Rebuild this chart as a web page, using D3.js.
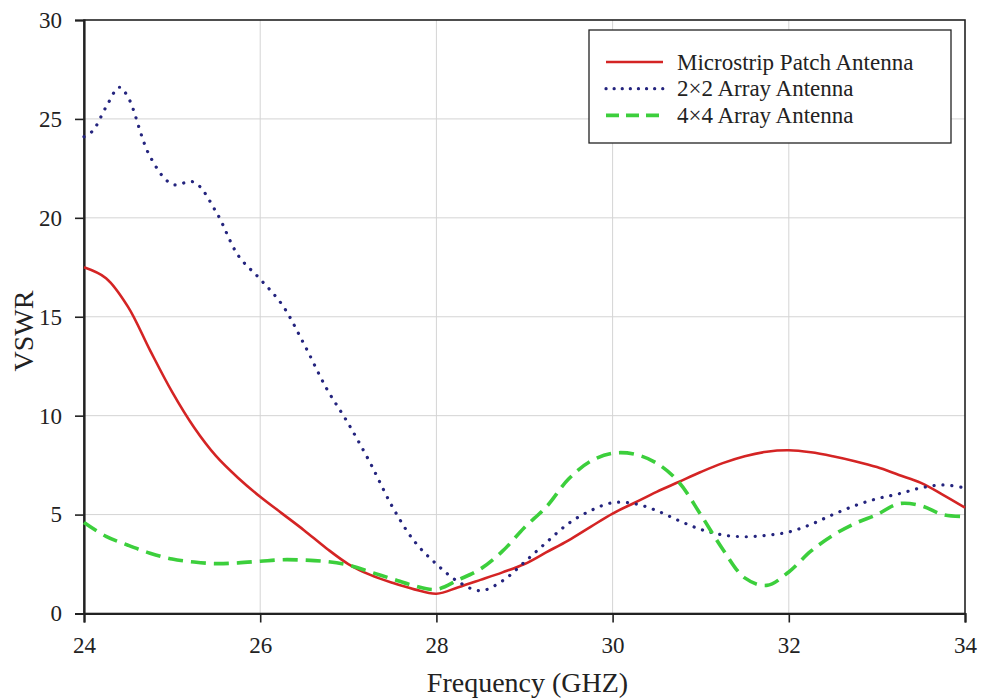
<!DOCTYPE html>
<html><head><meta charset="utf-8">
<script src="https://cdn.jsdelivr.net/npm/d3@7"></script>
<style>body{margin:0;background:#fff}svg{display:block}text{font-family:"Liberation Serif","Times New Roman",serif !important;fill:#222}</style>
</head><body>
<svg id="c" width="982" height="698"></svg>
<script>
const freq = [24,24.25,24.5,24.75,25,25.25,25.5,25.75,26,26.25,26.5,26.75,27,27.25,27.5,27.75,28,28.25,28.5,28.75,29,29.25,29.5,29.75,30,30.25,30.5,30.75,31,31.25,31.5,31.75,32,32.25,32.5,32.75,33,33.25,33.5,33.75,34];
const patch = [17.5,16.95,15.5,13.3,11.2,9.4,7.95,6.85,5.9,5.05,4.2,3.3,2.5,1.95,1.55,1.22,1.0,1.33,1.7,2.08,2.5,3.1,3.7,4.38,5.05,5.6,6.15,6.65,7.15,7.6,7.95,8.18,8.25,8.15,7.95,7.7,7.4,7.0,6.6,6.0,5.35];
const freq2 = [24,24.1,24.25,24.4,24.5,24.75,25,25.25,25.5,25.75,26,26.25,26.5,26.75,27,27.25,27.5,27.75,28,28.25,28.5,28.75,29,29.25,29.5,29.75,30,30.25,30.5,30.75,31,31.25,31.5,31.75,32,32.25,32.5,32.75,33,33.25,33.5,33.75,34];
const array2 = [24.1,24.4,25.6,26.6,26.1,23.1,21.7,21.8,20.3,18.1,16.9,15.6,13.6,11.4,9.6,7.6,5.4,3.65,2.5,1.6,1.15,1.65,2.6,3.6,4.55,5.2,5.6,5.55,5.2,4.7,4.25,3.97,3.88,3.95,4.12,4.5,5.0,5.45,5.8,6.05,6.35,6.5,6.35];
const array4 = [4.6,3.9,3.45,3.05,2.75,2.6,2.52,2.56,2.64,2.72,2.7,2.63,2.45,2.1,1.75,1.4,1.22,1.7,2.25,3.15,4.35,5.4,6.8,7.7,8.1,8.05,7.6,6.65,5.0,3.25,1.8,1.42,2.1,3.15,3.95,4.55,5.0,5.55,5.45,5.0,4.9];
const seriesNames = ["Microstrip Patch Antenna","2\u00d72 Array Antenna","4\u00d74 Array Antenna"];
const xTicks = [24,26,28,30,32,34];
const yTicks = [0,5,10,15,20,25,30];

const svg = d3.select("#c");
const L=84,R=965,T=20,B=613.5;
const x = d3.scaleLinear().domain([24,34]).range([L,R]);
const y = d3.scaleLinear().domain([0,30]).range([B,T]);

// grid
svg.append("g").selectAll("line").data(yTicks.slice(1,-1)).join("line")
  .attr("x1",L).attr("x2",R).attr("y1",d=>y(d)).attr("y2",d=>y(d))
  .attr("stroke","#d4d4d4").attr("stroke-width",1);
svg.append("g").selectAll("line").data(xTicks.slice(1,-1)).join("line")
  .attr("y1",T).attr("y2",B).attr("x1",d=>x(d)).attr("x2",d=>x(d))
  .attr("stroke","#d4d4d4").attr("stroke-width",1);

// frame
svg.append("rect").attr("x",L).attr("y",T).attr("width",R-L).attr("height",B-T)
  .attr("fill","none").attr("stroke","#222").attr("stroke-width",1.6);

// axes
const xa = svg.append("g").attr("transform",`translate(0,${B})`)
  .call(d3.axisBottom(x).tickValues(xTicks).tickSize(9).tickPadding(14).tickFormat(d3.format("d")));
const ya = svg.append("g").attr("transform",`translate(${L},0)`)
  .call(d3.axisLeft(y).tickValues(yTicks).tickSize(9).tickPadding(13).tickFormat(d3.format("d")));
[xa,ya].forEach(g=>{
  g.attr("font-family",null).attr("font-size",null);
  g.select(".domain").attr("stroke","#222").attr("stroke-width",2.2);
  g.selectAll(".tick line").attr("stroke","#222").attr("stroke-width",1.6);
  g.selectAll(".tick text").style("font-family","'Liberation Serif', serif").style("font-size","23px").attr("fill","#222");
});

// titles
svg.append("text").attr("x",(L+R)/2+3).attr("y",692).attr("text-anchor","middle")
  .attr("font-size",28).text("Frequency (GHZ)");
svg.append("text").attr("transform",`translate(33,331) rotate(-90)`).attr("text-anchor","middle")
  .attr("font-size",28).text("VSWR");

const styles = [
  {color:"#d42424",width:2.6,dash:null,cap:"butt"},
  {color:"#24247e",width:3.2,dash:"0.1 8.8",cap:"round"},
  {color:"#3ccf3c",width:3.6,dash:"15 8",cap:"butt"}
];
const allSeries=[[freq,patch],[freq2,array2],[freq,array4]];
const plot = svg.append("g");
allSeries.forEach(([fx,s],k)=>{
  const st=styles[k];
  const line = d3.line().x((d,i)=>x(fx[i])).y(d=>y(d)).curve(d3.curveCatmullRom.alpha(0.5));
  plot.append("path").datum(s).attr("d",line).attr("fill","none")
    .attr("stroke",st.color).attr("stroke-width",st.width)
    .attr("stroke-linecap",st.cap).attr("stroke-linejoin","round")
    .attr("stroke-dasharray",st.dash);
});

// legend
const lg = svg.append("g");
lg.append("rect").attr("x",589).attr("y",30).attr("width",362).attr("height",113)
  .attr("fill","#fff").attr("stroke","#222").attr("stroke-width",1.3);
seriesNames.forEach((n,k)=>{
  const cy=62+k*26.7, st=styles[k];
  lg.append("line").attr("x1",606).attr("x2",663).attr("y1",cy).attr("y2",cy)
    .attr("stroke",st.color).attr("stroke-width",st.width).attr("stroke-linecap",st.cap)
    .attr("stroke-dasharray",k===1?"0.1 8":(k===2?"13 7":null));
  lg.append("text").attr("x",677).attr("y",cy+7.5).attr("font-size",23).text(n);
});
</script>
</body></html>
